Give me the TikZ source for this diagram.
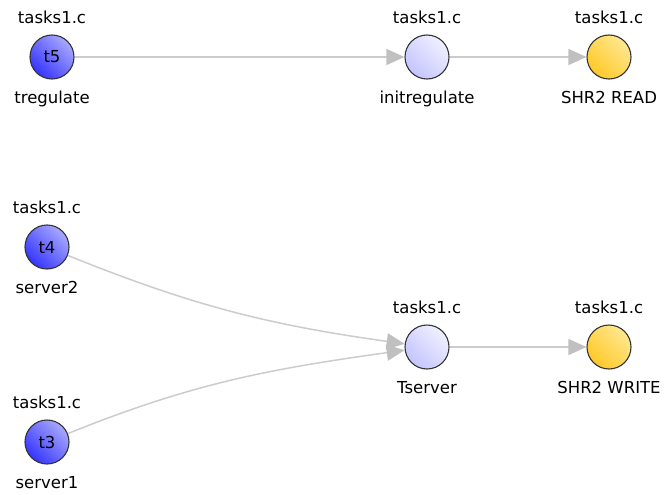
\documentclass[tikz,border=0pt]{standalone}
\usepackage{fontspec}
\setmainfont{DejaVu Sans}
\usetikzlibrary{arrows.meta}
\definecolor{edgec}{HTML}{CCCCCC}
\definecolor{tipc}{HTML}{C0C0C0}
\definecolor{bluedark}{HTML}{3535FF}
\definecolor{bluelight}{HTML}{A8A8FF}
\definecolor{lavdark}{HTML}{C4C4FF}
\definecolor{lavlight}{HTML}{F0F0FF}
\definecolor{yeldark}{HTML}{FFC828}
\definecolor{yellight}{HTML}{FFE890}
\begin{document}
\begin{tikzpicture}[x=1pt,y=-1pt,
  every node/.style={font=\fontsize{16.5}{19}\selectfont, text=black},
  nd/.style={circle, draw=black!80, line width=1.1pt, minimum size=44pt, inner sep=0pt},
  task/.style={nd, top color=bluelight, bottom color=bluedark, shading angle=-45},
  fn/.style={nd, top color=lavlight, bottom color=lavdark, shading angle=-45},
  shr/.style={nd, top color=yellight, bottom color=yeldark, shading angle=-45},
  lbl/.style={inner sep=0pt},
  conn/.style={draw=edgec, line width=1.5pt, -{Triangle[length=18pt,width=16pt,fill=tipc,color=tipc]}}
]
\useasboundingbox (0,0) rectangle (669,495);
\node[task] (t5) at (52,57) {t5};
\node[fn] (ir) at (427,57) {};
\node[shr] (sr) at (609,57) {};
\node[task] (t4) at (47,247) {t4};
\node[fn] (ts) at (427,347) {};
\node[shr] (sw) at (609,347) {};
\node[task] (t3) at (47,442) {t3};

\foreach \n in {t5,ir,sr,t4,ts,sw,t3}{
  \node[lbl, anchor=base] (\n-top) at ([yshift=11pt]\n.north) {tasks1.c};
}
\node[lbl, anchor=base] (t5-b) at ([yshift=-24pt]t5.south) {tregulate};
\node[lbl, anchor=base] (ir-b) at ([yshift=-24pt]ir.south) {initregulate};
\node[lbl, anchor=base] (sr-b) at ([yshift=-24pt]sr.south) {SHR2 READ};
\node[lbl, anchor=base] (t4-b) at ([yshift=-24pt]t4.south) {server2};
\node[lbl, anchor=base] (ts-b) at ([yshift=-24pt]ts.south) {Tserver};
\node[lbl, anchor=base] (sw-b) at ([yshift=-24pt]sw.south) {SHR2 WRITE};
\node[lbl, anchor=base] (t3-b) at ([yshift=-24pt]t3.south) {server1};

\draw[conn] (t5) -- (ir);
\draw[conn] (ir) -- (sr);
\draw[conn] (ts) -- (sw);
\draw[conn] (t4) to[out=-22,in=172] (ts);
\draw[conn] (t3) to[out=22,in=188] (ts);
\end{tikzpicture}
\end{document}
